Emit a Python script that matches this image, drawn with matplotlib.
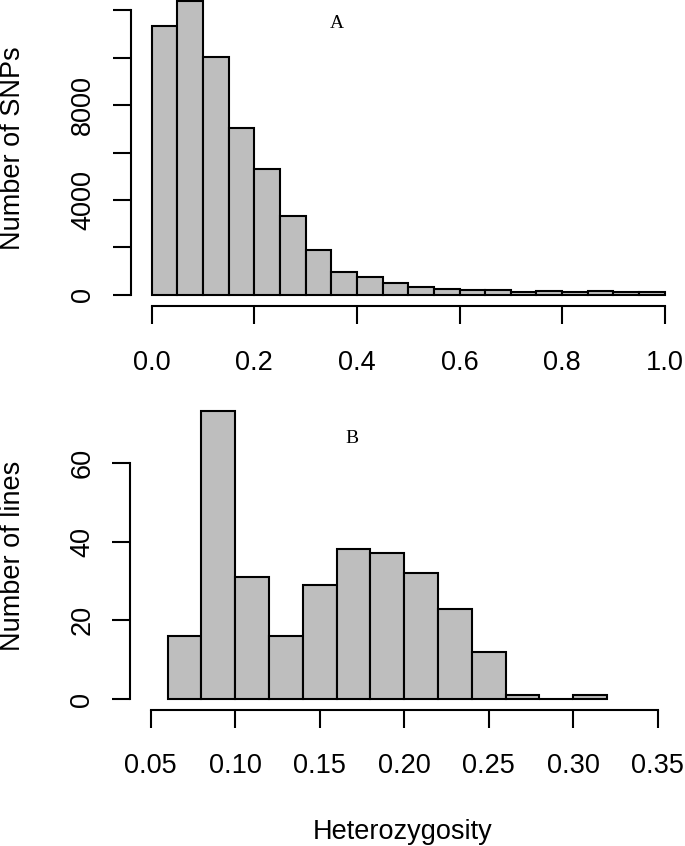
import numpy as np
import matplotlib
matplotlib.use("Agg")
import matplotlib.pyplot as plt
from matplotlib.ticker import FixedLocator, FixedFormatter

# --- datos ---

# A: heterocigosidad por SNP (bins de 0.05)
snp_breaks = np.round(np.arange(0, 1.0001, 0.05), 2)
snp_counts = [11350, 12390, 10040, 7050, 5290, 3310, 1870, 945,
              735, 495, 310, 240, 200, 210, 125, 170, 125, 170, 105, 105]
snp_yticks = [0, 2000, 4000, 6000, 8000, 10000, 12000]
snp_ylabels = ['0', '', '4000', '', '8000', '', '']
snp_xticks = [0.0, 0.2, 0.4, 0.6, 0.8, 1.0]

# B: heterocigosidad por linea (bins de 0.02)
line_breaks = np.round(np.arange(0.06, 0.3201, 0.02), 2)
line_counts = [16, 73, 31, 16, 29, 38, 37, 32, 23, 12, 1, 0, 1]
line_yticks = [0, 20, 40, 60]
line_xticks = [0.05, 0.10, 0.15, 0.20, 0.25, 0.30, 0.35]

plt.rcParams['font.family'] = ['Liberation Sans', 'DejaVu Sans']

W, H = 685, 846
fig = plt.figure(figsize=(W / 100, H / 100), dpi=100)


def px_axes(left, top, right, bottom):
    # posicion de un eje a partir de pixeles
    return fig.add_axes([left / W, 1 - bottom / H, (right - left) / W, (bottom - top) / H])


def estilo(ax, xb, yb):
    for s in ['top', 'right']:
        ax.spines[s].set_visible(False)
    ax.spines['left'].set_bounds(*yb)
    ax.spines['bottom'].set_bounds(*xb)
    for s in ['left', 'bottom']:
        ax.spines[s].set_linewidth(1.5)
    ax.tick_params(axis='both', length=13, width=1.5, labelsize=19.5)
    ax.tick_params(axis='x', pad=18)
    ax.tick_params(axis='y', pad=12, labelrotation=90)
    for t in ax.get_yticklabels():
        t.set_va('center')


gris = '#bebebe'

# --- panel A ---
ax1 = px_axes(131, 0, 685, 306.5)
ax1.bar(snp_breaks[:-1], snp_counts, width=np.diff(snp_breaks), align='edge',
        color=gris, edgecolor='black', linewidth=1.5)
ax1.set_xlim(-0.0404, 1.0396)
ax1.set_ylim(-498, 12435)
ax1.xaxis.set_major_locator(FixedLocator(snp_xticks))
ax1.set_xticklabels([f'{v:.1f}' for v in snp_xticks])
ax1.yaxis.set_major_locator(FixedLocator(snp_yticks))
ax1.yaxis.set_major_formatter(FixedFormatter(snp_ylabels))
estilo(ax1, (0, 1), (0, 12000))
ax1.set_ylabel('Number of SNPs', fontsize=19.5, va='center')
ax1.yaxis.set_label_coords((12.5 - 131) / 554, (306.5 - 148) / 306.5)
ax1.text((337 - 131) / 554, (306.5 - 23) / 306.5, 'A', transform=ax1.transAxes,
         ha='center', va='center', fontsize=14, family=['Liberation Serif'])

# --- panel B ---
ax2 = px_axes(130, 400, 685, 710)
ax2.bar(line_breaks[:-1], line_counts, width=np.diff(line_breaks), align='edge',
        color=gris, edgecolor='black', linewidth=1.5)
ax2.set_xlim(0.03775, 0.36615)
ax2.set_ylim(-2.712, 75.87)
ax2.xaxis.set_major_locator(FixedLocator(line_xticks))
ax2.set_xticklabels([f'{v:.2f}' for v in line_xticks])
ax2.yaxis.set_major_locator(FixedLocator(line_yticks))
ax2.set_yticklabels([str(v) for v in line_yticks])
estilo(ax2, (0.05, 0.35), (0, 60))
ax2.set_ylabel('Number of lines', fontsize=19.5, va='center')
ax2.yaxis.set_label_coords((13 - 130) / 555, (710 - 556) / 310)
ax2.set_xlabel('Heterozygosity', fontsize=19.5, va='center')
ax2.xaxis.set_label_coords((403 - 130) / 555, (710 - 832) / 310)
ax2.text((352 - 130) / 555, (710 - 438) / 310, 'B', transform=ax2.transAxes,
         ha='center', va='center', fontsize=14, family=['Liberation Serif'])

fig.savefig('out.png', dpi=100)
